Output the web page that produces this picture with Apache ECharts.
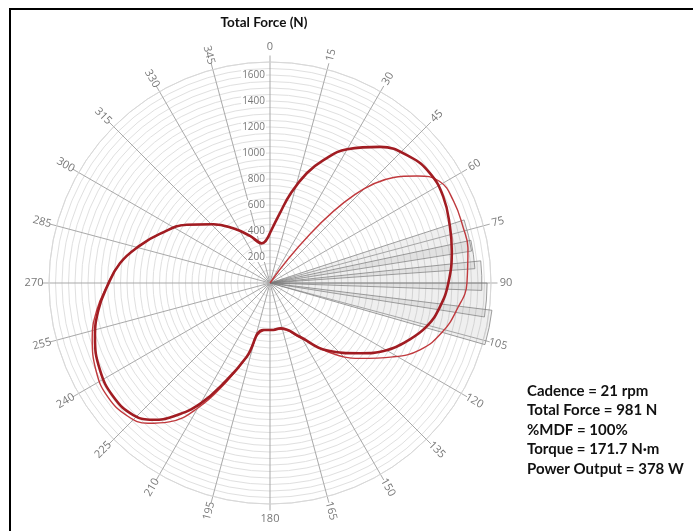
<!DOCTYPE html>
<html>
<head>
<meta charset="utf-8">
<script src="https://cdn.jsdelivr.net/npm/echarts@6/dist/echarts.min.js"></script>
<style>
  html, body { margin: 0; padding: 0; background: #ffffff; }
  #chart { width: 693px; height: 531px; }
</style>
</head>
<body>
<div id="chart"></div>
<script>
// Crank angle (degrees, clockwise from top) and total pedal force (N)

// Current revolution (closed trace)
const thickAngle = [0, 8, 13, 18.5, 23.5, 30, 39, 48, 55.5, 63.5, 72.5, 80, 90, 98, 105.5, 113, 120, 128,
  140, 151, 167, 176, 188, 197.5, 204, 210, 216, 220.5, 226, 234, 243, 253, 261, 268.5, 277.5, 286, 294,
  305, 316, 326, 337, 348, 360];
const thickForce = [385, 541, 707, 890, 1031, 1188, 1347, 1450, 1492, 1489, 1451, 1420, 1372, 1320, 1251, 1144, 1035, 878,
  675, 473, 357, 362, 365, 595, 817, 1071, 1269, 1384, 1462, 1489, 1469, 1408, 1337, 1256, 1164, 1042, 928,
  781, 629, 507, 393, 312, 385];

// Previous revolution (open trace, starting from zero force)
const thinAngle = [49.5, 49.5, 54, 59, 66, 74, 80, 90, 98, 106, 114, 121, 130, 140, 151, 167, 176, 188, 197.5,
  204, 210, 216, 221, 227, 235, 243, 253, 261, 268.5, 277.5, 286, 294, 305, 316, 326, 337, 348];
const thinForce = [0, 1250, 1400, 1520, 1546, 1546, 1546, 1515, 1453, 1377, 1263, 1103, 902, 690, 480, 365, 360, 370, 600,
  840, 1110, 1320, 1430, 1500, 1525, 1500, 1430, 1350, 1260, 1164, 1042, 928, 781, 629, 507, 393, 312];

// Shaded force sectors
const sectorFrom = [72, 78, 84, 90, 97];
const sectorTo = [81, 86, 92, 99, 106];
const sectorForce = [1570, 1580, 1630, 1670, 1720];

// Axis ticks
const angleTicks = [0, 15, 30, 45, 60, 75, 90, 105, 120, 135, 150, 165, 180, 195, 210, 225, 240, 255, 270, 285, 300, 315, 330, 345];
const forceMax = 1700;
const spokeMax = 1750;
const forceStep = 50;
const forceLabelStep = 200;

// Summary values
const statNames = ['Cadence', 'Total Force', '%MDF', 'Torque', 'Power Output'];
const statValues = ['21 rpm', '981 N', '100%', '171.7 N\u00b7m', '378 W'];

const PX_PER_N = 0.13;
const CENTER = [270, 283];
const LABEL_R = 1815;

function labelRotation(a) {
  if (a % 180 === 0) return 0;
  let r = 90 - a;
  while (r > 90) r -= 180;
  while (r < -90) r += 180;
  return r;
}

const zip = (as, fs) => as.map((a, i) => [fs[i], a]);

const chart = echarts.init(document.getElementById('chart'), null, { renderer: 'canvas' });

const statText = statNames.map((n, i) => '{b|' + n + '} = ' + statValues[i]).join('\n');

chart.setOption({
  backgroundColor: '#ffffff',
  animation: false,
  title: [
    {
      text: 'Total Force (N)',
      left: 264, top: 16, textAlign: 'center', padding: 0,
      textStyle: { fontFamily: 'Lato', fontWeight: 'bold', fontSize: 13.5, color: '#111' }
    },
    {
      text: statText,
      left: 527, top: 381, padding: 0,
      textStyle: {
        fontFamily: 'Lato', fontSize: 15, color: '#111', lineHeight: 19.5,
        rich: { b: { fontFamily: 'Lato', fontWeight: 'bold', fontSize: 15, color: '#111', lineHeight: 19.5 } }
      }
    }
  ],
  graphic: [
    {
      type: 'rect', silent: true,
      shape: { x: 10, y: 9, width: 700, height: 540 },
      style: { fill: 'none', stroke: '#000', lineWidth: 2 }
    }
  ],
  polar: [
    { center: CENTER, radius: [0, forceMax * PX_PER_N] },
    { center: CENTER, radius: [0, spokeMax * PX_PER_N] }
  ],
  angleAxis: [
    {
      polarIndex: 0, type: 'value', min: 0, max: 360, interval: 15, startAngle: 90, clockwise: true,
      axisLine: { show: true, lineStyle: { color: '#d8d8d8', width: 1 } },
      axisTick: { show: false }, axisLabel: { show: false }, splitLine: { show: false }
    },
    {
      polarIndex: 1, type: 'value', min: 0, max: 360, interval: 15, startAngle: 90, clockwise: true,
      axisLine: { show: false }, axisTick: { show: false }, axisLabel: { show: false },
      splitLine: { show: true, lineStyle: { color: '#a9a9a9', width: 1 } }
    }
  ],
  radiusAxis: [
    {
      polarIndex: 0, type: 'value', min: 0, max: forceMax, interval: forceStep,
      axisLine: { show: false }, axisTick: { show: false },
      splitLine: { show: true, lineStyle: { color: '#e0e0e0', width: 1 } },
      axisLabel: {
        show: true, showMinLabel: false, showMaxLabel: false,
        formatter: v => (v > 0 && v % forceLabelStep === 0) ? String(v) : '',
        fontFamily: 'Open Sans', fontSize: 10, color: '#777', margin: 4,
        backgroundColor: '#ffffff', padding: [0, 1, 0, 1]
      }
    },
    {
      polarIndex: 1, type: 'value', min: 0, max: spokeMax, show: false
    }
  ],
  series: [
    {
      type: 'custom', coordinateSystem: 'polar', polarIndex: 1, z: 1, silent: true,
      data: sectorForce.map((f, i) => [f, sectorFrom[i], sectorTo[i]]),
      encode: { radius: 0, angle: 1 },
      renderItem: function (params, api) {
        const f = api.value(0), a0 = api.value(1), a1 = api.value(2);
        const c = api.coord([0, a0]);
        const p = api.coord([f, a0]);
        const r = Math.hypot(p[0] - c[0], p[1] - c[1]);
        return {
          type: 'sector',
          shape: {
            cx: c[0], cy: c[1], r0: 0, r: r,
            startAngle: (a0 - 90) * Math.PI / 180,
            endAngle: (a1 - 90) * Math.PI / 180,
            clockwise: true
          },
          style: { fill: 'rgba(150,150,150,0.15)', stroke: 'rgba(120,120,120,0.7)', lineWidth: 1 }
        };
      }
    },
    {
      type: 'line', coordinateSystem: 'polar', polarIndex: 1, z: 3,
      data: zip(thinAngle, thinForce), smooth: 0.45, symbol: 'none', silent: true,
      lineStyle: { color: '#c0393d', width: 1.4 }
    },
    {
      type: 'line', coordinateSystem: 'polar', polarIndex: 1, z: 4,
      data: zip(thickAngle, thickForce), smooth: 0.45, symbol: 'none', silent: true,
      lineStyle: { color: '#a11c22', width: 2.6 }
    },
    {
      type: 'scatter', coordinateSystem: 'polar', polarIndex: 1, z: 5, clip: false, silent: true,
      symbolSize: 0,
      data: angleTicks.map(a => ({ value: [LABEL_R, a], label: { rotate: labelRotation(a) } })),
      label: {
        show: true, position: 'inside', formatter: p => String(p.value[1]),
        fontFamily: 'Open Sans', fontSize: 11, color: '#555'
      }
    }
  ]
});
</script>
</body>
</html>
